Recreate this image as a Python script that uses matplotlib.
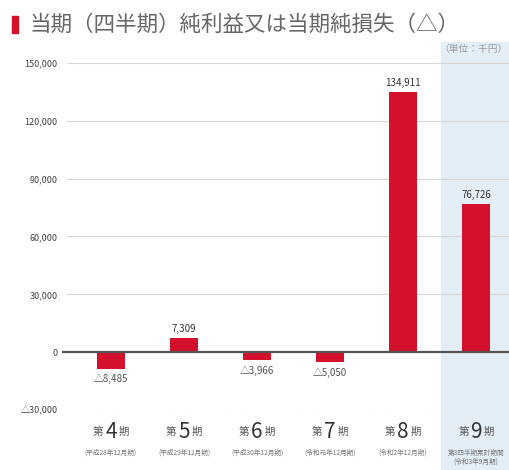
import matplotlib.pyplot as plt
from matplotlib.patches import Rectangle
from matplotlib.transforms import blended_transform_factory

plt.rcParams['font.family'] = ['Noto Sans CJK JP', 'DejaVu Sans']

# データ（単位：千円）
periods = ['4', '5', '6', '7', '8', '9']
sub_labels = ['(平成28年12月期)', '(平成29年12月期)', '(平成30年12月期)',
              '(令和元年12月期)', '(令和2年12月期)', '第3四半期累計期間\n(令和3年9月期)']
values = [-8485, 7309, -3966, -5050, 134911, 76726]
y_ticks = [-30000, 0, 30000, 60000, 90000, 120000, 150000]

fig = plt.figure(figsize=(5.09, 4.70), dpi=100)
ax = fig.add_axes([62 / 509, 60 / 470, 447 / 509, 347 / 470])

x = list(range(len(values)))

# 第9期の背景（青）
ax.axvspan(4.52, 6.0, ymin=-0.18, ymax=1.06, color='#e4eef7', zorder=0, clip_on=False)

ax.bar(x, values, width=0.39, color='#d3112c', zorder=3)

# グリッド線
for t in y_ticks:
    if t == 0:
        ax.axhline(t, color='#555555', lw=1.6, zorder=4)
    elif t == -30000:
        ax.axhline(t, xmin=0.012, color='#bbbbbb', lw=0.8, ls=(0, (3, 2)), zorder=1)
    else:
        ax.axhline(t, xmin=0.012, color='#d5d5d5', lw=0.8, zorder=1)

ax.set_xlim(-0.67, 5.45)
ax.set_ylim(-30000, 150000)
ax.set_yticks(y_ticks)
ax.set_yticklabels(['△30,000' if t < 0 else f'{t:,}' for t in y_ticks],
                   fontsize=6.5, color='#444444')
ax.tick_params(axis='y', length=0, pad=3)
ax.set_xticks([])
for s in ax.spines.values():
    s.set_visible(False)

# 値ラベル
for xi, v in zip(x, values):
    if v >= 0:
        ax.annotate(f'{v:,}', (xi, v), xytext=(0, 3), textcoords='offset points',
                    ha='center', va='bottom', fontsize=7, color='#333333')
    else:
        ax.annotate(f'△{-v:,}', (xi, v), xytext=(0, -4), textcoords='offset points',
                    ha='center', va='top', fontsize=7, color='#555555')

# カテゴリラベル
tr = blended_transform_factory(ax.transData, ax.transAxes)
for xi, p, sub in zip(x, periods, sub_labels):
    ax.annotate(p, (xi, 0), xycoords=tr, xytext=(0, -8), textcoords='offset points',
                ha='center', va='top', fontsize=15, color='#333333')
    ax.annotate('第', (xi, 0), xycoords=tr, xytext=(-5.5, -12), textcoords='offset points',
                ha='right', va='top', fontsize=7.5, color='#555555')
    ax.annotate('期', (xi, 0), xycoords=tr, xytext=(5.5, -12), textcoords='offset points',
                ha='left', va='top', fontsize=7.5, color='#555555')
    ax.annotate(sub, (xi, 0), xycoords=tr, xytext=(0, -28), textcoords='offset points',
                ha='center', va='top', fontsize=4.8, color='#777777', linespacing=1.2)

# タイトル
fig.patches.append(Rectangle((12 / 509, 1 - 33 / 470), 6 / 509, 17 / 470,
                             transform=fig.transFigure, color='#d3112c'))
fig.text(30 / 509, 1 - 25 / 470, '当期（四半期）純利益又は当期純損失（△）',
         fontsize=15.5, color='#666666', va='center', ha='left')
fig.text(507 / 509, 1 - 49 / 470, '（単位：千円）', fontsize=7, color='#999999',
         va='center', ha='right')

fig.savefig('out.png', dpi=100)
